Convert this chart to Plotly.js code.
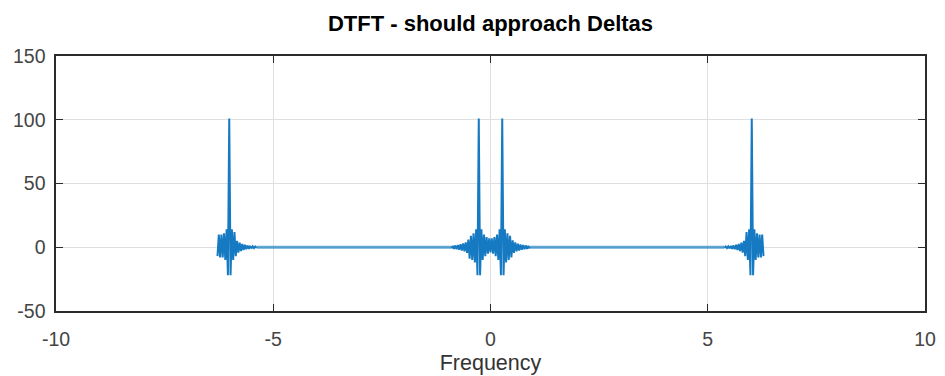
<!DOCTYPE html>
<html>
<head>
<meta charset="utf-8">
<script src="https://cdn.plot.ly/plotly-3.0.1.min.js"></script>
<style>html,body{margin:0;padding:0;background:#fff;}#chart{width:945px;height:376px;}</style>
</head>
<body>
<div id="chart"></div>
<script>
// Frequency grid of the dense (burst) parts
const burstStep = 0.03;
const leftBurstStart = -6.283;
const centerBurstStart = -0.9;
const rightBurstStart = 5.383;

// DTFT values (left burst around -6.01)
const leftBurst = [-7, 10, -8, 10, -8, 11, -10, 14, -22, 101, -22, 14, -10, 12, -7, 5,
  -4.2, 3.6, -3, 2.6, -2.2, 1.9, -1.6, 1.4, -1.2, 1.0, -0.9, 0.8, -0.7, 0.6, -0.5];

// center burst around -0.27 and +0.27
const centerBurst = [-0.9, 1.0, -1.2, 1.4, -1.6, 1.8, -2.0, 2.3, -2.6, 3.0, -3.3, 3.8,
  -4.5, 6, -9, 9, -10, 11, -12, 14, -22, 101, -22, 14, -10, 10, -7, 8, -5, 7, -4,
  7, -5, 8, -7, 10, -10, 14, -22, 101, -22, 14, -12, 11, -10, 9, -8, 5.5, -4.5, 3.8,
  -3.2, 2.8, -2.5, 2.2, -2.0, 1.8, -1.6, 1.4, -1.2, 1.0, -0.9];

// right burst around +6.01
const rightBurst = [-0.5, 0.6, -0.7, 0.8, -0.9, 1.0, -1.2, 1.4, -1.6, 1.9, -2.2, 2.6,
  -3, 3.6, -4.2, 5, -7, 12, -10, 14, -22, 101, -22, 14, -10, 11, -8, 10, -8, 10, -7];

// nearly flat stretches between bursts
const flatLeftFreq = [-5.383, -4.5, -3.5, -2.5, -1.5, -0.9];
const flatLeftVal = [0, 0, 0, 0, 0, 0];
const flatRightFreq = [0.9, 1.5, 2.5, 3.5, 4.5, 5.383];
const flatRightVal = [0, 0, 0, 0, 0, 0];

const xTicks = [-10, -5, 0, 5, 10];
const yTicks = [-50, 0, 50, 100, 150];

const burstLine = {color: 'rgb(22,122,194)', width: 2.0};
const flatLine = {color: 'rgba(0,114,189,0.62)', width: 3.2};

const traces = [
  {type: 'scatter', mode: 'lines', x: flatLeftFreq, y: flatLeftVal, line: flatLine, hoverinfo: 'skip'},
  {type: 'scatter', mode: 'lines', x: flatRightFreq, y: flatRightVal, line: flatLine, hoverinfo: 'skip'},
  {type: 'scatter', mode: 'lines', x0: leftBurstStart, dx: burstStep, y: leftBurst, line: burstLine, hoverinfo: 'skip'},
  {type: 'scatter', mode: 'lines', x0: centerBurstStart, dx: burstStep, y: centerBurst, line: burstLine, hoverinfo: 'skip'},
  {type: 'scatter', mode: 'lines', x0: rightBurstStart, dx: burstStep, y: rightBurst, line: burstLine, hoverinfo: 'skip'}
];

const fontFam = '"Liberation Sans", Arial, Helvetica, sans-serif';
const axisCommon = {
  showgrid: true, gridcolor: '#dfdfdf', gridwidth: 1,
  zeroline: false, showline: true, linecolor: '#2b2b2b', linewidth: 1.6,
  mirror: 'allticks', ticks: 'inside', ticklen: 7, tickwidth: 1.3, tickcolor: '#2b2b2b',
  tickfont: {family: fontFam, size: 19.5, color: '#444444'}
};

const layout = {
  width: 945, height: 376,
  margin: {l: 56, r: 20, t: 56, b: 64.5, pad: 0},
  paper_bgcolor: '#ffffff', plot_bgcolor: '#ffffff',
  showlegend: false,
  title: {text: 'DTFT - should approach Deltas', x: 0.5, xref: 'paper', y: 1 - 23.5 / 376, yref: 'container', yanchor: 'middle',
    font: {family: fontFam, size: 22, color: '#000000', weight: 'bold'}},
  xaxis: Object.assign({}, axisCommon, {range: [-10, 10], tickvals: xTicks, ticktext: xTicks.map(String),
    ticklabelstandoff: 10,
    title: {text: 'Frequency', font: {family: fontFam, size: 21.5, color: '#333333'}, standoff: 6}}),
  yaxis: Object.assign({}, axisCommon, {range: [-50, 150], tickvals: yTicks, ticktext: yTicks.map(String),
    ticklabelstandoff: 5})
};

Plotly.newPlot('chart', traces, layout, {staticPlot: true, displayModeBar: false});
</script>
</body>
</html>
